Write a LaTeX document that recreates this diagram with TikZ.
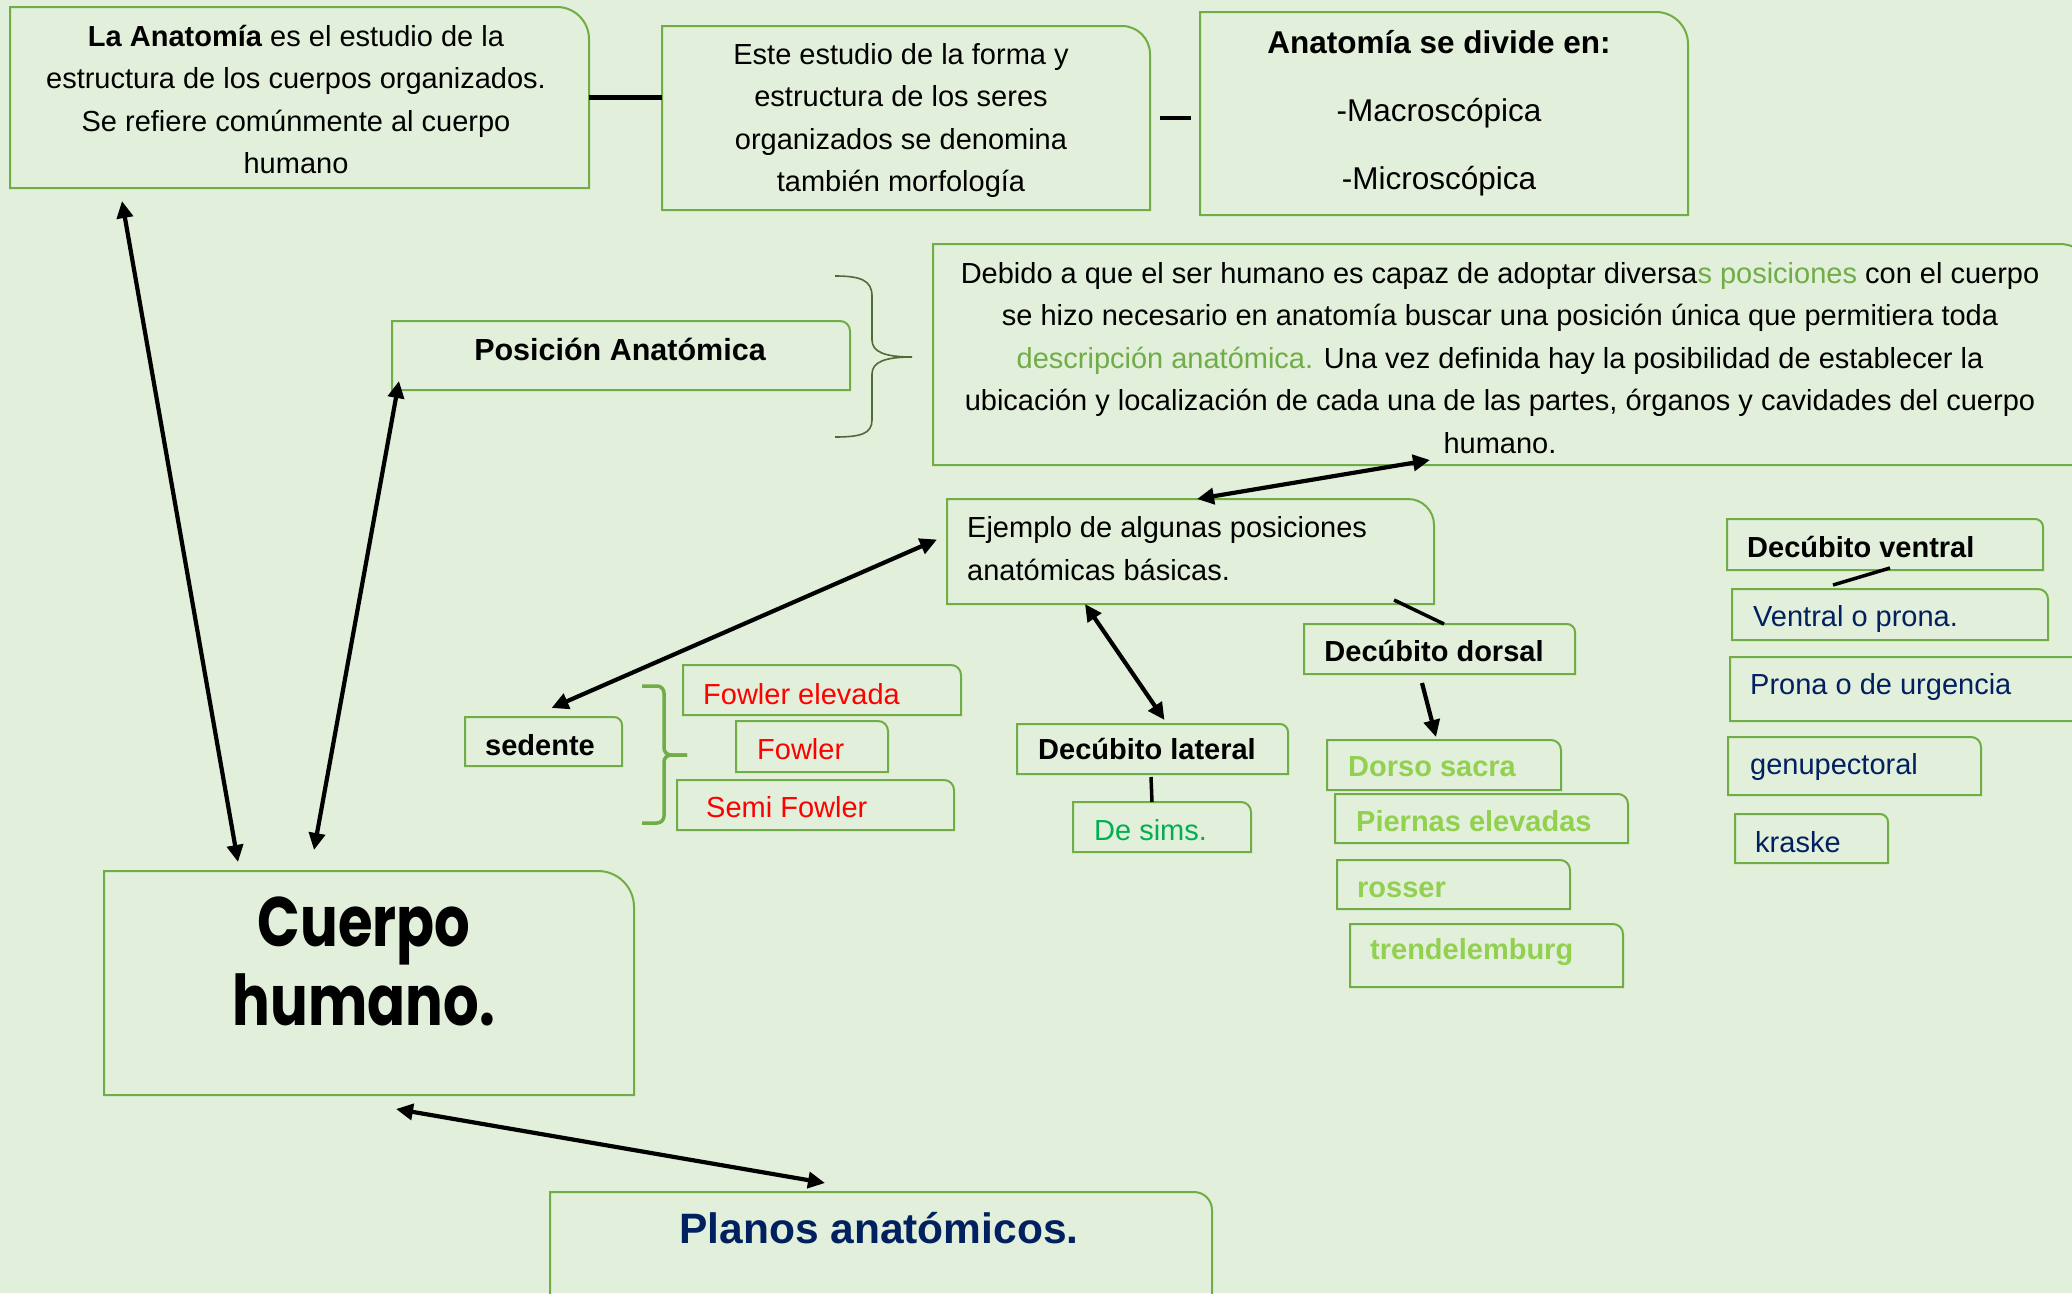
\documentclass[tikz,border=0pt]{standalone}
\usepackage{fontspec}
\usepackage{graphicx}
\setmainfont{Liberation Sans}
\newfontfamily\cuerpofont{Poppins}
\usetikzlibrary{arrows.meta,calc}
\definecolor{bgc}{HTML}{E2EFDA}
\definecolor{boxc}{HTML}{70AD47}
\definecolor{dblue}{HTML}{002060}
\definecolor{redc}{HTML}{FF0000}
\definecolor{simsc}{HTML}{00B050}
\definecolor{lgreen}{HTML}{92D050}
\definecolor{lgr}{HTML}{70AD47}
\definecolor{bracec}{HTML}{4F6B3A}
\newcommand\mybox[6]{%
  \node[inner sep=0pt,outer sep=0pt,minimum width={(#4)-(#2)},minimum height={(#5)-(#3)},anchor=north west] (#1) at (#2,-#3) {};
  \draw[boxline] (#1.south west) -- (#1.north west) -- ([xshift=-#6pt]#1.north east) arc[start angle=90,end angle=0,radius=#6pt] -- (#1.south east) -- cycle;
}
\begin{document}
\begin{tikzpicture}[x=1pt,y=1pt,
  boxline/.style={draw=boxc, line width=2pt},
  conn/.style={draw=black, line width=4.2pt},
  dbl/.style={conn, {Triangle[length=17pt,width=16pt]}-{Triangle[length=17pt,width=16pt]}},
  sgl/.style={conn, -{Triangle[length=17pt,width=16pt]}},
  txt/.style={inner sep=0pt, font=\fontsize{29}{42.5}\selectfont},
  btxt/.style={txt, font=\fontsize{29}{42.5}\selectfont\bfseries},
]
\fill[bgc] (0,0) rectangle (2072,-1293);
\useasboundingbox (0,0) rectangle (2072,-1293);
\clip (0,0) rectangle (2072,-1293);

% boxes
\mybox{anat}{10}{7}{589}{188}{32}
\mybox{morf}{662}{26}{1150}{210}{28}
\mybox{divi}{1200}{12}{1688}{215}{32}
\mybox{posic}{392}{321}{850}{390}{10}
\mybox{debi}{933}{244}{2092}{465}{32}
\mybox{ejem}{947}{499}{1434}{604}{26}
\mybox{sed}{465}{717}{622}{766}{8}
\mybox{fel}{683}{665}{961}{715}{10}
\mybox{fow}{736}{721}{888}{772}{10}
\mybox{semi}{677}{780}{954}{830}{10}
\mybox{lat}{1017}{724}{1288}{774}{8}
\mybox{sims}{1073}{802}{1251}{852}{10}
\mybox{dors}{1304}{624}{1575}{674}{8}
\mybox{dsac}{1327}{740}{1561}{790}{10}
\mybox{pier}{1335}{794}{1628}{843}{10}
\mybox{ross}{1337}{860}{1570}{909}{10}
\mybox{tren}{1350}{924}{1623}{987}{10}
\mybox{dven}{1727}{519}{2043}{570}{8}
\mybox{vpro}{1732}{589}{2048}{640}{10}
\mybox{purg}{1730}{657}{2088}{721}{14}
\mybox{genu}{1728}{737}{1981}{795}{10}
\mybox{kras}{1735}{814}{1888}{863}{8}
\mybox{cuer}{104}{871}{634}{1095}{36}
\mybox{plan}{550}{1192}{1212}{1310}{18}

% texts
\node[txt, align=center] (anat-t) at (296,-99.5) {\textbf{La Anatomía} es el estudio de la\\estructura de los cuerpos organizados.\\Se refiere comúnmente al cuerpo\\humano};
\node[txt, align=center] (morf-t) at (901,-120.5) {Este estudio de la forma y\\estructura de los seres\\organizados se denomina\\también morfología};
\node[txt, align=center, font=\fontsize{31.5}{68}\selectfont] (divi-t) at (1439,-113) {\textbf{Anatomía se divide en:}\\-Macroscópica\\-Microscópica};
\node[txt, anchor=base, font=\fontsize{30.5}{36}\selectfont\bfseries] (posic-t) at (620,-360.5) {Posición Anatómica};
\node[txt, align=center] (debi-t) at (1500,-358) {Debido a que el ser humano es capaz de adoptar diversa{\color{lgr}s posiciones} con el cuerpo\\se hizo necesario en anatomía buscar una posición única que permitiera toda\\{\color{lgr}descripción anatómica.} Una vez definida hay la posibilidad de establecer la\\ubicación y localización de cada una de las partes, órganos y cavidades del cuerpo\\humano.};
\node[txt, align=left, anchor=west] (ejem-t) at (967,-548.5) {Ejemplo de algunas posiciones\\anatómicas básicas.};
\node[btxt, anchor=base] (sed-t) at (540,-755) {sedente};
\node[txt, anchor=base west, text=redc] (fel-t) at (703,-704) {Fowler elevada};
\node[txt, anchor=base west, text=redc] (fow-t) at (757,-759) {Fowler};
\node[txt, anchor=base west, text=redc] (semi-t) at (706,-817) {Semi Fowler};
\node[btxt, anchor=base] (lat-t) at (1147,-759) {Decúbito lateral};
\node[txt, anchor=base west, text=simsc] (sims-t) at (1094,-840) {De sims.};
\node[btxt, anchor=base] (dors-t) at (1434,-661) {Decúbito dorsal};
\node[btxt, anchor=base west, text=lgreen] (dsac-t) at (1348,-776) {Dorso sacra};
\node[btxt, anchor=base west, text=lgreen] (pier-t) at (1356,-831) {Piernas elevadas};
\node[btxt, anchor=base west, text=lgreen] (ross-t) at (1357,-897) {rosser};
\node[btxt, anchor=base west, text=lgreen] (tren-t) at (1370,-959) {trendelemburg};
\node[btxt, anchor=base west] (dven-t) at (1747,-557) {Decúbito ventral};
\node[txt, anchor=base west, text=dblue] (vpro-t) at (1753,-626) {Ventral o prona.};
\node[txt, anchor=base west, text=dblue] (purg-t) at (1750,-694) {Prona o de urgencia};
\node[txt, anchor=base west, text=dblue] (genu-t) at (1750,-774) {genupectoral};
\node[txt, anchor=base west, text=dblue] (kras-t) at (1755,-852) {kraske};
\node[inner sep=0pt, align=center, font=\cuerpofont\bfseries\fontsize{70}{79}\selectfont] (cuer-t) at (364,-961) {\scalebox{0.8}[1]{Cuerpo}\\\scalebox{0.8}[1]{humano.}};
\node[txt, anchor=base, font=\fontsize{42.5}{50}\selectfont\bfseries, text=dblue] (plan-t) at (879,-1243) {Planos anatómicos.};

% braces
\draw[bracec, line width=1.6pt] (835,-276) .. controls (860,-276) and (872,-280) .. (872,-296) -- (872,-340) .. controls (872,-352) and (885,-357) .. (912,-357) .. controls (885,-357) and (872,-362) .. (872,-374) -- (872,-420) .. controls (872,-434) and (860,-437) .. (835,-437);
\draw[boxc, line width=3.5pt, rounded corners=7pt] (642,-686) -- (664,-686) -- (664,-755) -- (687,-755);
\draw[boxc, line width=3.5pt, rounded corners=7pt] (687,-755) -- (664,-755) -- (664,-823) -- (642,-823);

% connectors
\draw[conn] (anat.east) -- (anat.east -| morf.west);
\draw[conn] ([xshift=10pt]morf.east) -- ([xshift=-9pt]morf.east -| divi.west);
\draw[dbl] ([shift={(497pt,5pt)}]debi.south west) -- ([xshift=250pt]ejem.north west);
\draw[dbl] ([shift={(-10pt,12pt)}]ejem.west) -- ([shift={(8pt,9pt)}]sed.north);
\draw[dbl] ([xshift=138pt]ejem.south west) -- ([shift={(12pt,4pt)}]lat.north);
\draw[conn, line width=3.5pt] ([shift={(-1.5pt,-3pt)}]lat.south) -- ([xshift=-10pt]sims.north);
\draw[conn, line width=3.5pt] ([shift={(-40pt,4pt)}]ejem.south east) -- ([xshift=4.5pt]dors.north);
\draw[sgl] ([shift={(-17.5pt,-9pt)}]dors.south) -- ([shift={(-8pt,3pt)}]dsac.north);
\draw[conn, line width=3.5pt] ([shift={(-57pt,4pt)}]vpro.north) -- ([shift={(5pt,2pt)}]dven.south);
\draw[dbl] ([shift={(112pt,-13pt)}]anat.south west) -- ([shift={(134pt,9pt)}]cuer.north west);
\draw[dbl] ([shift={(7pt,9pt)}]posic.south west) -- ([shift={(210pt,21pt)}]cuer.north west);
\draw[dbl] ([shift={(292pt,-14pt)}]cuer.south west) -- ([shift={(275pt,9pt)}]plan.north west);
\end{tikzpicture}
\end{document}
